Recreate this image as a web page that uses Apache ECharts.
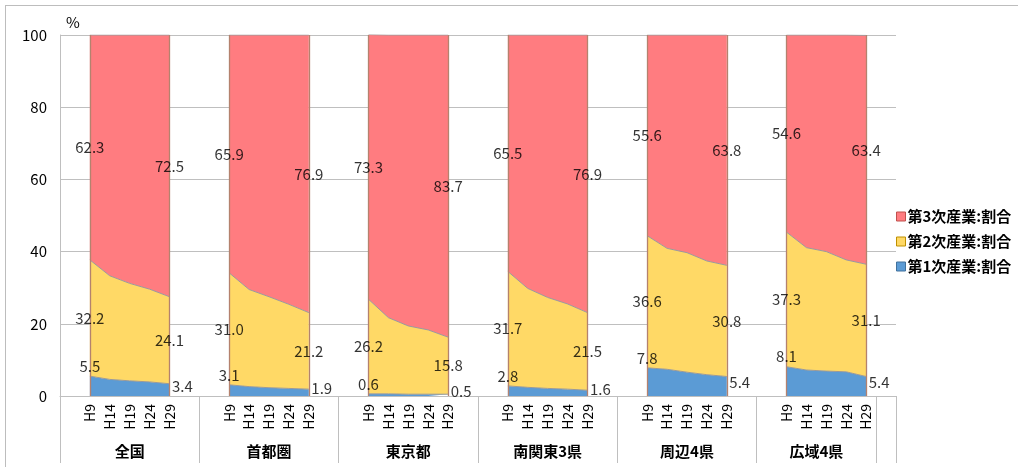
<!DOCTYPE html>
<html>
<head>
<meta charset="utf-8">
<script src="https://cdn.jsdelivr.net/npm/echarts@6/dist/echarts.min.js"></script>
<style>
  html, body { margin: 0; padding: 0; background: #fff; }
  #frame { position: absolute; left: 5px; top: 5px; width: 1013px; height: 462px;
           border-top: 1px solid #bdbdbd; border-left: 1px solid #bdbdbd; }
  #chart { position: absolute; left: 0; top: 0; width: 1018px; height: 467px; }
</style>
</head>
<body>
<div id="frame"></div>
<div id="chart"></div>
<script>
const years = ['H9', 'H14', 'H19', 'H24', 'H29']
const regions = ['全国', '首都圏', '東京都', '南関東3県', '周辺4県', '広域4県']

// 第1次 / 第2次 / 第3次産業の割合 (%)
const primary = [
  [5.5, 4.6, 4.2, 3.9, 3.4],
  [3.1, 2.6, 2.3, 2.1, 1.9],
  [0.6, 0.6, 0.5, 0.5, 0.5],
  [2.8, 2.4, 2.1, 1.9, 1.6],
  [7.8, 7.4, 6.6, 5.9, 5.4],
  [8.1, 7.2, 6.9, 6.7, 5.4]
]
const secondary = [
  [32.2, 28.7, 27.0, 25.7, 24.1],
  [31.0, 26.9, 25.2, 23.3, 21.2],
  [26.2, 21.1, 18.9, 17.8, 15.8],
  [31.7, 27.4, 25.2, 23.6, 21.5],
  [36.6, 33.5, 33.1, 31.5, 30.8],
  [37.3, 33.9, 33.1, 31.0, 31.1]
]
const tertiary = [
  [62.3, 66.7, 68.8, 70.4, 72.5],
  [65.9, 70.5, 72.5, 74.6, 76.9],
  [73.3, 78.3, 80.6, 81.7, 83.7],
  [65.5, 70.2, 72.7, 74.5, 76.9],
  [55.6, 59.1, 60.3, 62.6, 63.8],
  [54.6, 58.9, 60.0, 62.3, 63.4]
]

const names = ['第1次産業:割合', '第2次産業:割合', '第3次産業:割合']
const colors = ['#5B9BD5', '#FFD966', '#FF7C80']
const borders = ['#41719C', '#BF9000', '#C0504D']
const font = '"Noto Sans CJK JP", "Noto Sans", sans-serif'

// slots: blank, H9..H29, blank for each region
const categories = []
const firstSlot = []
regions.forEach(() => {
  categories.push('')
  firstSlot.push(categories.length)
  years.forEach(y => categories.push(y))
  categories.push('')
})
// group separators on the lower axis row (last group has no trailing blank)
const groupEdges = [0, 7, 14, 21, 28, 35, 41, 42]
const groupCenters = regions.map((r, i) => (groupEdges[i] + groupEdges[i + 1]) / 2)

function spread(rows) {
  const out = []
  rows.forEach(row => {
    out.push(null)
    row.forEach(v => out.push(v))
    out.push(null)
  })
  return out
}

const layers = [primary, secondary, tertiary]

// label anchor points at H9 and H29
function labelPoints(k) {
  const pts = []
  regions.forEach((r, g) => {
    [0, 4].forEach(i => {
      let base = 0
      for (let j = 0; j < k; j++) base += layers[j][g][i]
      const v = layers[k][g][i]
      const x = firstSlot[g] + i
      if (k === 0) {
        if (i === 0) pts.push({ value: [x, v, v], label: { position: 'top', distance: 2 } })
        else pts.push({ value: [x, v / 2, v], label: { position: 'right', distance: 2, offset: [0, -4] } })
      } else {
        pts.push({ value: [x, base + v / 2, v], label: { position: 'inside' } })
      }
    })
  })
  return pts
}

const edgeLines = []
firstSlot.forEach(s => { edgeLines.push({ xAxis: s }); edgeLines.push({ xAxis: s + 4 }) })

const series = []
layers.forEach((rows, k) => {
  series.push({
    name: names[k],
    type: 'line',
    stack: 'total',
    data: spread(rows),
    showSymbol: false,
    connectNulls: false,
    color: colors[k],
    lineStyle: { width: 1, color: '#9a9a9a' },
    areaStyle: { color: colors[k], opacity: 1 },
    emphasis: { disabled: true },
    silent: true,
    animation: false,
    z: 2,
    markLine: k === 2 ? {
      silent: true,
      symbol: ['none', 'none'],
      label: { show: false },
      lineStyle: { type: 'solid', color: '#b4826e', width: 1.3 },
      data: edgeLines,
      animation: false
    } : undefined
  })
})
layers.forEach((rows, k) => {
  series.push({
    name: 'lbl' + k,
    type: 'scatter',
    data: labelPoints(k),
    symbolSize: 1,
    itemStyle: { color: 'rgba(0,0,0,0)' },
    silent: true,
    animation: false,
    z: 5,
    label: {
      show: true,
      color: '#000',
      fontSize: 15,
      fontFamily: font,
      formatter: p => p.value[2].toFixed(1)
    }
  })
})

const chart = echarts.init(document.getElementById('chart'))
chart.setOption({
  animation: false,
  textStyle: { fontFamily: font },
  grid: { left: 60, right: 122, top: 35, bottom: 71 },
  legend: {
    orient: 'vertical',
    left: 891,
    top: 204,
    icon: 'rect',
    itemWidth: 9,
    itemHeight: 9,
    itemGap: 10,
    textStyle: { fontSize: 15, fontWeight: 'bold', color: '#000', padding: [0, 0, 0, -3] },
    data: [2, 1, 0].map(k => ({
      name: names[k],
      itemStyle: { color: colors[k], borderColor: borders[k], borderWidth: 1 }
    }))
  },
  xAxis: [
    {
      type: 'category',
      position: 'bottom',
      data: categories,
      boundaryGap: true,
      axisLine: { lineStyle: { color: '#bfbfbf' } },
      axisTick: { interval: 0, length: 36, lineStyle: { color: '#bfbfbf' } },
      axisLabel: { interval: 0, rotate: 90, margin: 8, fontSize: 14, color: '#000', fontFamily: font },
      splitLine: { show: false }
    },
    {
      type: 'value',
      position: 'bottom',
      min: 0,
      max: groupEdges[groupEdges.length - 1],
      axisLine: { show: false },
      axisTick: { show: true, customValues: groupEdges, length: 67, lineStyle: { color: '#bfbfbf' } },
      axisLabel: {
        customValues: groupCenters,
        margin: 48,
        fontSize: 15,
        fontWeight: 'bold',
        color: '#000',
        fontFamily: font,
        formatter: v => regions[groupCenters.indexOf(v)] || ''
      },
      splitLine: { show: false }
    }
  ],
  yAxis: {
    type: 'value',
    min: 0,
    max: 100,
    interval: 20,
    name: '%',
    nameGap: 5,
    nameTextStyle: { fontSize: 15, color: '#000', align: 'left', padding: [0, 0, 0, 6] },
    axisLine: { show: true, lineStyle: { color: '#bfbfbf' } },
    axisTick: { show: false },
    axisLabel: { fontSize: 15, color: '#000', margin: 13, fontFamily: font },
    splitLine: { lineStyle: { color: '#bfbfbf' } }
  },
  series: series
})
</script>
</body>
</html>
